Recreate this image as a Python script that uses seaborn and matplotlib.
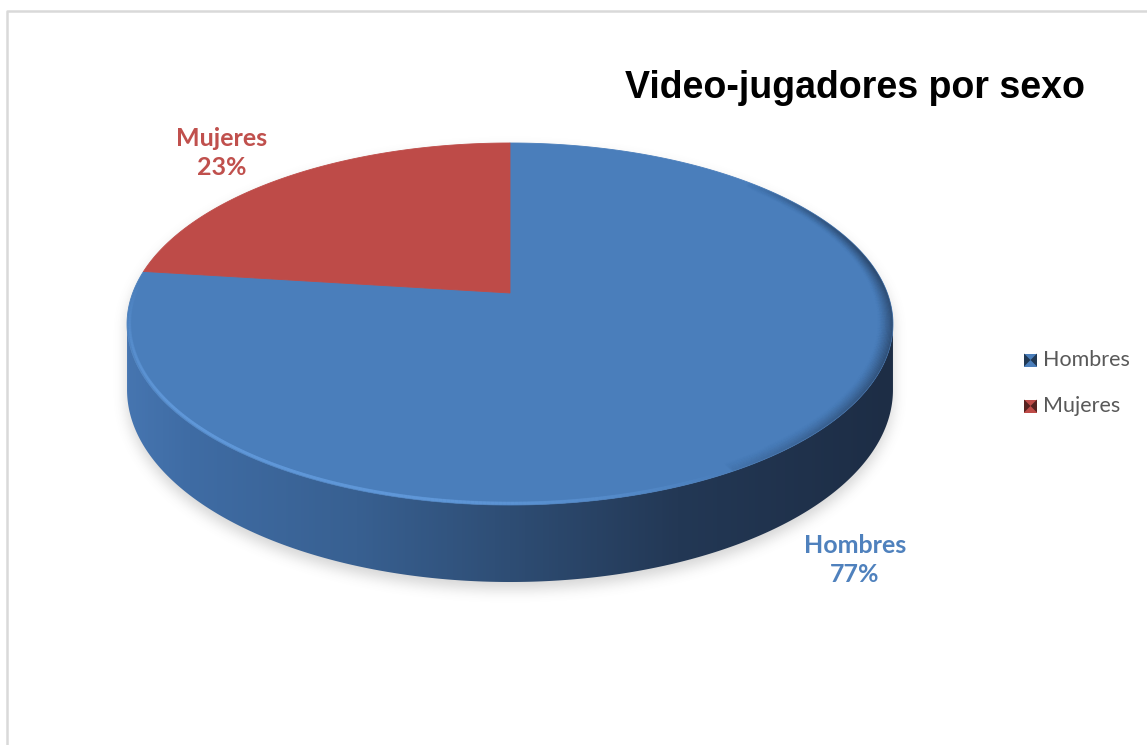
import numpy as np
import matplotlib
matplotlib.use("Agg")
import matplotlib.pyplot as plt
import seaborn as sns
from matplotlib.patches import Polygon, Rectangle
from matplotlib.collections import LineCollection
from matplotlib.colors import LinearSegmentedColormap, to_rgba
from matplotlib.path import Path

# --- data -------------------------------------------------------------
categories = ["Hombres", "Mujeres"]
shares = [77, 23]
slice_colors = ["#4a7ebb", "#be4b48"]
label_colors = ["#4f81bd", "#c0504d"]
title_text = "Video-jugadores por sexo"

sns.set_theme(style="white")
plt.rcParams["font.family"] = ["Lato", "DejaVu Sans"]

W, H = 1147, 745
fig = plt.figure(figsize=(W / 100, H / 100), dpi=100)
ax = fig.add_axes([0, 0, 1, 1])
ax.set_xlim(0, W)
ax.set_ylim(H, 0)
ax.axis("off")

# --- perspective disc geometry -----------------------------------------
CX, CY = 510.0, 293.0        # projected pie centre
A_V, K, C_U = 175.7, 0.1713, 377.3
DEPTH = 63.8                 # side thickness before perspective scaling


def project(theta_deg, r=1.0, bottom=False):
    t = np.radians(np.asarray(theta_deg, dtype=float))
    u, v = r * np.cos(t), r * np.sin(t)
    w = 1.0 + K * v
    x = CX + C_U * u / w
    y = CY - A_V * v / w
    if bottom:
        y = y + DEPTH / w
    return x, y


alpha = np.degrees(np.arcsin(K))
near = np.linspace(180 + alpha, 360 - alpha, 300)
far = np.linspace(-alpha, 180 + alpha, 300)

# silhouette of the whole disc
sx_far, sy_far = project(far)
sx_near, sy_near = project(near, bottom=True)
sil = np.column_stack([np.r_[sx_far, sx_near], np.r_[sy_far, sy_near]])

# soft drop shadow under the disc
yy, xx = np.mgrid[0:H, 0:W]
pts = np.column_stack([xx.ravel() + 0.5, yy.ravel() + 0.5 - 7])
mask = Path(sil).contains_points(pts).reshape(H, W).astype(float)


def box_blur(img, r):
    k = 2 * r + 1
    p = np.pad(img, r, mode="constant")
    c = np.cumsum(p, axis=0)
    c = np.vstack([np.zeros((1, c.shape[1])), c])
    img = (c[k:] - c[:-k]) / k
    c = np.cumsum(img, axis=1)
    c = np.hstack([np.zeros((c.shape[0], 1)), c])
    return (c[:, k:] - c[:, :-k]) / k


shadow = mask
for _ in range(3):
    shadow = box_blur(shadow, 6)
rgba = np.zeros((H, W, 4))
rgba[..., :3] = 0.35
rgba[..., 3] = shadow * 0.26
ax.imshow(rgba, extent=(0, W, H, 0), zorder=1, interpolation="bilinear")

# side wall with horizontal shading
tx, ty = project(near)
bx, by = project(near, bottom=True)
side_xy = np.column_stack([np.r_[tx, bx[::-1]], np.r_[ty, by[::-1]]])
side_patch = Polygon(side_xy, closed=True, facecolor="none", edgecolor="none", zorder=2)
ax.add_patch(side_patch)
side_cmap = LinearSegmentedColormap.from_list(
    "side", [(0.0, "#4675b0"), (0.08, "#3f6ca4"), (0.3, "#386091"),
             (0.5, "#2e4d74"), (0.72, "#233855"), (1.0, "#1d2d45")])
grad = np.linspace(0, 1, 512)[None, :]
x0, x1 = sil[:, 0].min(), sil[:, 0].max()
im = ax.imshow(grad, cmap=side_cmap, aspect="auto",
               extent=(x0, x1, sil[:, 1].max() + 2, 280), zorder=3)
im.set_clip_path(side_patch)

# top face outline used for clipping the bevel strokes
full_t = np.linspace(0, 360, 720)
fx, fy = project(full_t)
top_patch = Polygon(np.column_stack([fx, fy]), closed=True, facecolor="none",
                    edgecolor="none", zorder=4)
ax.add_patch(top_patch)

# top face slices, clockwise from twelve o'clock
start = 90.0
for cat, share, col in zip(categories, shares, slice_colors):
    end = start - share / sum(shares) * 360.0
    arc = np.linspace(start, end, 400)
    ax_, ay_ = project(arc)
    poly = np.column_stack([np.r_[CX, ax_], np.r_[CY, ay_]])
    ax.add_patch(Polygon(poly, closed=True, facecolor=col, edgecolor=col,
                         linewidth=0.6, zorder=4))
    start = end

# bevel: light rim at the front-left, soft darker rim at the right
rim_t = np.linspace(150, 405, 500)
mid = (rim_t[:-1] + rim_t[1:]) / 2


def rim(r, width, light_a, dark_a):
    rx, ry = project(rim_t, r=r)
    segs = np.stack([np.column_stack([rx[:-1], ry[:-1]]),
                     np.column_stack([rx[1:], ry[1:]])], axis=1)
    cols = []
    for t in mid:
        if t < 300:
            a = np.clip((t - 175) / 40, 0, 1) * np.clip((300 - t) / 40, 0, 1)
            cols.append(to_rgba("#69a3e6", light_a * a))
        else:
            a = np.clip((t - 295) / 45, 0, 1) * np.clip((405 - t) / 35, 0, 1)
            cols.append(to_rgba("#1d2d45", dark_a * a))
    lc = LineCollection(segs, colors=cols, linewidths=width, zorder=5, capstyle="butt")
    ax.add_collection(lc)
    lc.set_clip_path(top_patch)


rim(1.0, 5.0, 0.35, 0.0)
rim(0.993, 2.0, 0.55, 0.0)
for i, r in enumerate(np.linspace(1.0, 0.965, 12)):
    rim(r, 2.2, 0.0, 0.30 * (1 - i / 12) ** 1.5)

# data labels
label_pos = {"Mujeres": (222, 153), "Hombres": (855, 560)}
for cat, share, col in zip(categories, shares, label_colors):
    x, y = label_pos[cat]
    ax.text(x, y, f"{cat}\n{share}%", ha="center", va="center", color=col,
            fontsize=18, fontweight="bold", linespacing=1.3, zorder=6)

# title
ax.text(855, 88, title_text, ha="center", va="center", color="black",
        fontsize=27, fontweight="bold", family=["Liberation Sans", "DejaVu Sans"], zorder=6)

# legend
leg_y = [360, 406]
for cat, col, y in zip(categories, slice_colors, leg_y):
    s = 13
    lx = 1024
    ax.add_patch(Rectangle((lx, y - s / 2), s, s, facecolor=col, edgecolor="none", zorder=6))
    dark = tuple(np.array(to_rgba(col)[:3]) * 0.45)
    ax.add_patch(Polygon([(lx, y - s / 2), (lx + s / 2, y), (lx, y + s / 2)],
                         closed=True, facecolor=dark, edgecolor="none", zorder=7))
    ax.add_patch(Polygon([(lx + s, y - s / 2), (lx + s / 2, y), (lx + s, y + s / 2)],
                         closed=True, facecolor=dark, edgecolor="none", zorder=7))
    ax.text(lx + 19, y, cat, ha="left", va="center", color="#595959",
            fontsize=15.5, zorder=7)

# chart frame
ax.plot([6.5, 6.5, W], [H, 10.5, 10.5], color="#d9d9d9", linewidth=1.8, zorder=8,
        solid_capstyle="butt")

fig.savefig("out.png", dpi=100, facecolor="white")
